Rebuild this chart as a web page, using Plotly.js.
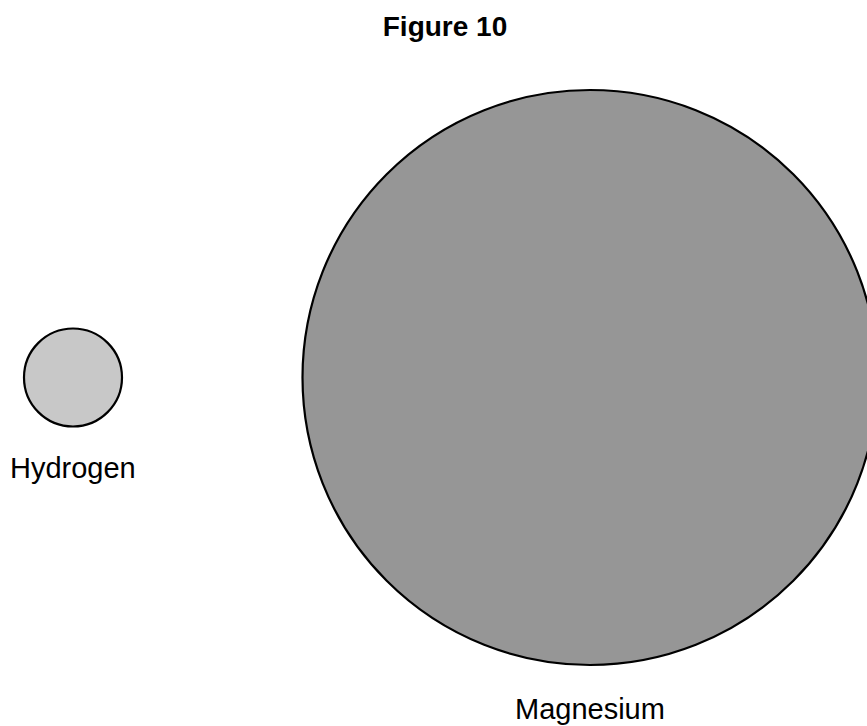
<!DOCTYPE html>
<html>
<head>
<meta charset="utf-8">
<script src="https://cdn.plot.ly/plotly-3.0.1.min.js"></script>
<style>html,body{margin:0;padding:0;background:#fff;}#chart{width:867px;height:726px;}</style>
</head>
<body>
<div id="chart"></div>
<script>
// Data
const atoms = ["Hydrogen", "Magnesium"];
const atomRadii = [49, 287.5];          // relative drawn radius of each atom
const atomFills = ["#c8c8c8", "#969696"];
const titleText = "Figure 10";

// Layout (pixel-like coordinate frame)
const W = 867, H = 726;
const centersX = [73, 590];
const centerY = 377.5;
const labelY = [468, H];
const labelAnchor = ["middle", "bottom"];

const shapes = atoms.map((a, i) => ({
  type: "circle",
  xref: "x", yref: "y",
  x0: centersX[i] - atomRadii[i], x1: centersX[i] + atomRadii[i],
  y0: centerY - atomRadii[i], y1: centerY + atomRadii[i],
  fillcolor: atomFills[i],
  line: {color: "#000", width: 2.2},
  layer: "above"
}));

const annotations = atoms.map((a, i) => ({
  x: centersX[i], y: labelY[i], xref: "x", yref: "y",
  text: a, showarrow: false,
  xanchor: "center", yanchor: labelAnchor[i], borderpad: 0,
  font: {family: "Liberation Sans, Arial, sans-serif", size: 29, color: "#000"}
}));

const layout = {
  width: W, height: H,
  margin: {l: 0, r: 0, t: 0, b: 0},
  paper_bgcolor: "#fff", plot_bgcolor: "#fff",
  showlegend: false,
  title: {
    text: "<b>" + titleText + "</b>",
    x: 445 / W, xanchor: "center",
    y: 1 - 26 / H, yanchor: "middle", yref: "container",
    font: {family: "Liberation Sans, Arial, sans-serif", size: 28, color: "#000"}
  },
  xaxis: {range: [0, W], visible: false, fixedrange: true},
  yaxis: {range: [H, 0], visible: false, fixedrange: true},
  shapes: shapes,
  annotations: annotations
};

Plotly.newPlot("chart", [{x: [], y: [], type: "scatter", hoverinfo: "skip"}], layout, {staticPlot: true, displayModeBar: false});
</script>
</body>
</html>
